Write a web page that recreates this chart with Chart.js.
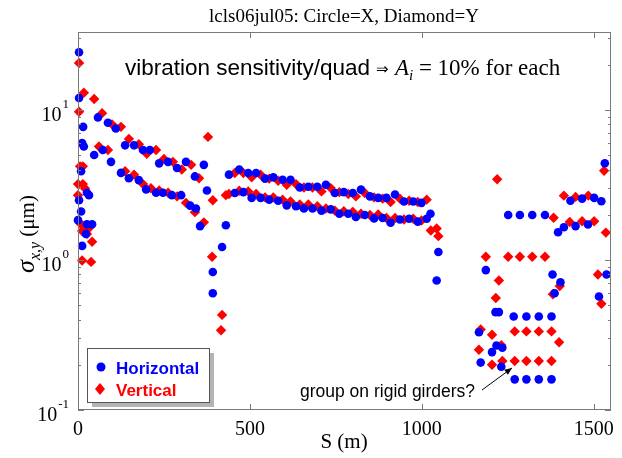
<!DOCTYPE html>
<html>
<head>
<meta charset="utf-8">
<script src="https://cdn.jsdelivr.net/npm/chart.js@4.4.1/dist/chart.umd.min.js"></script>
<style>
  html, body { margin: 0; padding: 0; background: #fff; }
  #wrap { width: 622px; height: 458px; }
</style>
</head>
<body>
<div id="wrap"><canvas id="chart" width="622" height="458"></canvas></div>
<script>
// ---- data ----
const titleText = 'lcls06jul05: Circle=X, Diamond=Y';
const seriesNames = ['Horizontal', 'Vertical'];
const xTicks = [0, 500, 1000, 1500];
const yDecades = [-1, 0, 1];

// [S (m), sigma (um)] for circles (X)
const horizontalPts = [
  [3, 24.2], [3, 12], [15, 7.7], [12, 6.0], [17, 5.7], [9, 3.9], [3, 2.5], [9, 2.1], [0, 1.84],
  [26, 2.8], [32, 2.7], [26, 1.73], [41, 1.73], [23, 1.49], [12, 1.24], [47, 5.0], [58, 8.9],
  [87, 8.2], [110, 7.5], [137, 5.8], [163, 5.8], [189, 5.4], [209, 5.4], [236, 4.4], [262, 4.5],
  [288, 4.1], [314, 4.5], [340, 3.6], [366, 4.3],
  [72, 5.4], [96, 4.5], [125, 3.8], [148, 3.5], [177, 3.4], [198, 2.95], [227, 2.8], [247, 2.8],
  [273, 2.7], [300, 2.7], [326, 2.3], [343, 2.2], [355, 1.68],
  [375, 2.9], [392, 0.83], [392, 0.60], [419, 1.22], [430, 1.7],
  [439, 3.7], [469, 4.0], [495, 3.79], [518, 3.79], [544, 3.48], [568, 3.55], [595, 3.42], [618, 3.42],
  [645, 3.04], [670, 3.07], [696, 3.07], [721, 3.17], [747, 2.79], [773, 2.83], [799, 2.79], [823, 2.94],
  [849, 2.65], [873, 2.59], [897, 2.59], [922, 2.73], [948, 2.45], [975, 2.45], [999, 2.40],
  [456, 2.79], [481, 2.83], [505, 2.59], [531, 2.59], [556, 2.52], [582, 2.48], [607, 2.31], [634, 2.28],
  [657, 2.2], [682, 2.2], [708, 2.13], [735, 2.17], [760, 2.03], [786, 2.03], [808, 1.93], [834, 1.99],
  [861, 1.89], [886, 1.90], [909, 1.77], [936, 1.86], [963, 1.88], [988, 1.80], [1014, 1.88],
  [1025, 2.03], [1048, 1.13], [1043, 0.73],
  [1166, 0.33], [1171, 0.207], [1186, 0.855], [1204, 0.243], [1214, 0.449], [1224, 0.449], [1217, 0.269],
  [1231, 0.194], [1234, 0.26], [1251, 1.99], [1285, 1.99], [1321, 1.99], [1358, 1.99],
  [1267, 0.42], [1304, 0.42], [1340, 0.42], [1377, 0.42], [1270, 0.16], [1304, 0.16], [1340, 0.16], [1377, 0.16],
  [1380, 0.80], [1386, 0.6], [1403, 0.71], [1396, 1.53], [1413, 1.65], [1432, 2.48], [1447, 1.68],
  [1466, 2.56], [1483, 1.72], [1501, 2.59], [1515, 0.57], [1522, 2.46], [1532, 4.41], [1537, 0.80]
];

// [S (m), sigma (um)] for diamonds (Y)
const verticalPts = [
  [3, 20.5], [17, 13], [3, 9.7], [47, 11.8], [70, 9.5], [61, 5.7], [6, 4.2], [14, 4.2], [0, 3.2],
  [14, 3.2], [20, 3.0], [0, 2.7], [9, 1.73], [32, 1.63], [12, 1.56], [26, 1.49], [41, 1.32], [12, 0.99], [38, 0.97],
  [99, 8.0], [125, 7.7], [148, 6.4], [177, 5.9], [200, 5.1], [227, 5.4], [250, 4.7], [276, 4.5],
  [302, 4.0], [329, 4.3], [352, 3.5], [378, 6.6],
  [87, 5.4], [137, 3.9], [163, 3.7], [189, 3.2], [212, 3.0], [236, 2.9], [262, 2.8], [288, 2.65],
  [314, 2.4], [340, 2.08], [366, 1.78], [392, 2.5],
  [390, 1.05], [419, 0.43], [416, 0.34], [430, 2.7],
  [456, 3.79], [481, 3.79], [505, 3.55], [531, 3.69], [556, 3.48], [582, 3.37], [607, 3.17], [634, 3.2],
  [657, 3.04], [682, 3.04], [708, 2.86], [735, 3.01], [760, 2.83], [786, 2.75], [808, 2.65], [834, 2.79],
  [861, 2.61], [886, 2.56], [909, 2.43], [936, 2.56], [963, 2.48], [988, 2.43], [1014, 2.52],
  [439, 2.75], [469, 2.89], [495, 2.86], [518, 2.75], [544, 2.61], [568, 2.61], [595, 2.52], [618, 2.45],
  [645, 2.34], [670, 2.34], [696, 2.28], [721, 2.2], [747, 2.13], [773, 2.11], [799, 2.09], [823, 2.03],
  [849, 1.99], [873, 2.01], [897, 1.90], [922, 1.90], [948, 1.86], [975, 1.88], [999, 1.83],
  [1026, 1.57], [1043, 1.62], [1048, 1.44],
  [1166, 0.252], [1171, 0.344], [1186, 1.05], [1204, 0.317], [1204, 0.2], [1215, 0.557], [1219, 3.45],
  [1224, 0.73], [1231, 0.27], [1234, 0.212], [1251, 1.05], [1285, 1.05], [1321, 1.05], [1358, 1.05],
  [1270, 0.334], [1304, 0.334], [1340, 0.334], [1377, 0.334], [1270, 0.212], [1304, 0.212], [1340, 0.212],
  [1377, 0.212], [1381, 0.59], [1383, 1.91], [1399, 0.283], [1401, 0.67], [1413, 2.68], [1430, 1.79],
  [1447, 2.63], [1466, 1.81], [1484, 2.68], [1501, 1.81], [1512, 0.80], [1522, 0.51], [1530, 3.93], [1535, 1.52]
];

const BLUE = '#0000ff';
const RED = '#ff0000';
const AXIS = '#7a7a7a';
const SERIF = '"Liberation Serif", "Times New Roman", serif';
const SANS = '"Liberation Sans", Arial, sans-serif';

function toXY(pts) { return pts.map(p => ({ x: p[0], y: p[1] })); }

// draws frame, inward ticks, tick labels, titles, legend, notes
const decorations = {
  id: 'decorations',
  afterDraw(chart) {
    const ctx = chart.ctx;
    const a = chart.chartArea;
    const xs = chart.scales.x, ys = chart.scales.y;
    ctx.save();

    // frame
    ctx.strokeStyle = AXIS;
    ctx.lineWidth = 1;
    ctx.strokeRect(a.left + 0.5, a.top + 0.5, a.right - a.left - 1, a.bottom - a.top - 1);

    // x ticks
    ctx.beginPath();
    xTicks.forEach(v => {
      const px = Math.round(xs.getPixelForValue(v)) + 0.5;
      ctx.moveTo(px, a.bottom); ctx.lineTo(px, a.bottom - 6);
      ctx.moveTo(px, a.top); ctx.lineTo(px, a.top + 6);
    });
    // y ticks, major + minor
    yDecades.forEach(d => {
      for (let m = 1; m <= 9; m++) {
        const v = m * Math.pow(10, d);
        if (v > ys.max) break;
        const py = Math.round(ys.getPixelForValue(v)) + 0.5;
        const len = m === 1 ? 6 : 3;
        ctx.moveTo(a.left, py); ctx.lineTo(a.left + len, py);
        ctx.moveTo(a.right, py); ctx.lineTo(a.right - len, py);
      }
    });
    ctx.stroke();

    // x tick labels
    ctx.fillStyle = '#000';
    ctx.font = '20px ' + SERIF;
    ctx.textAlign = 'center';
    ctx.textBaseline = 'alphabetic';
    xTicks.forEach(v => ctx.fillText(String(v), xs.getPixelForValue(v), 435));

    // y tick labels 10^d
    yDecades.forEach(d => {
      const py = ys.getPixelForValue(Math.pow(10, d));
      const exp = String(d);
      ctx.font = '13px ' + SERIF;
      const ew = ctx.measureText(exp).width;
      ctx.textAlign = 'left';
      const right = 69;
      ctx.fillText(exp, right - ew, py - 2);
      ctx.font = '20px ' + SERIF;
      ctx.textAlign = 'right';
      ctx.fillText('10', right - ew - 1, py + 11);
    });

    // title
    ctx.textAlign = 'center';
    ctx.font = '19px ' + SERIF;
    ctx.fillText(titleText, 344, 22);

    // x label
    ctx.font = '21px ' + SERIF;
    ctx.fillText('S (m)', 344, 448);

    // y label (rotated)
    ctx.save();
    ctx.translate(34, 234);
    ctx.rotate(-Math.PI / 2);
    const parts = [
      { t: 'σ', f: 'italic 26px ' + SERIF, dy: 0 },
      { t: 'x,y', f: 'italic 16px ' + SERIF, dy: 6 },
      { t: ' (μm)', f: '21px ' + SERIF, dy: 0 }
    ];
    let tw = 0;
    parts.forEach(p => { ctx.font = p.f; p.w = ctx.measureText(p.t).width; tw += p.w; });
    let cx = -tw / 2;
    ctx.textAlign = 'left';
    parts.forEach(p => { ctx.font = p.f; ctx.fillText(p.t, cx, p.dy); cx += p.w; });
    ctx.restore();

    // annotation
    const note = [
      { t: 'vibration sensitivity/quad ', f: '22.5px ' + SANS, dy: 0 },
      { t: '⇒', f: '15px ' + SANS, dy: -1 },
      { t: ' ', f: '20px ' + SANS, dy: 0 },
      { t: 'A', f: 'italic 23px ' + SERIF, dy: 0 },
      { t: 'i', f: 'italic 15px ' + SERIF, dy: 5 },
      { t: ' = 10% for each', f: '23px ' + SERIF, dy: 0 }
    ];
    let nx = 125;
    ctx.textAlign = 'left';
    note.forEach(p => { ctx.font = p.f; ctx.fillText(p.t, nx, 75 + p.dy); nx += ctx.measureText(p.t).width; });

    // girder note + arrow
    ctx.font = '17.5px ' + SANS;
    ctx.fillText('group on rigid girders?', 300, 397);
    ctx.strokeStyle = '#000';
    ctx.lineWidth = 1;
    const ax0 = 482, ay0 = 390, ax1 = 512, ay1 = 368;
    ctx.beginPath(); ctx.moveTo(ax0, ay0); ctx.lineTo(ax1, ay1); ctx.stroke();
    const ang = Math.atan2(ay1 - ay0, ax1 - ax0);
    ctx.beginPath();
    ctx.moveTo(ax1, ay1);
    ctx.lineTo(ax1 - 8 * Math.cos(ang - 0.4), ay1 - 8 * Math.sin(ang - 0.4));
    ctx.lineTo(ax1 - 8 * Math.cos(ang + 0.4), ay1 - 8 * Math.sin(ang + 0.4));
    ctx.closePath();
    ctx.fillStyle = '#000';
    ctx.fill();

    // legend box with shadow
    const lx = 87, ly = 348, lw = 122, lh = 54;
    ctx.fillStyle = '#b4b4b4';
    ctx.fillRect(lx + 5, ly + 5, lw, lh);
    ctx.fillStyle = '#fff';
    ctx.fillRect(lx, ly, lw, lh);
    ctx.strokeStyle = '#555';
    ctx.strokeRect(lx + 0.5, ly + 0.5, lw, lh);
    ctx.fillStyle = BLUE;
    ctx.beginPath(); ctx.arc(101, 367, 4.5, 0, Math.PI * 2); ctx.fill();
    ctx.fillStyle = RED;
    ctx.beginPath();
    ctx.moveTo(100, 383); ctx.lineTo(105, 389); ctx.lineTo(100, 395); ctx.lineTo(95, 389);
    ctx.closePath(); ctx.fill();
    ctx.font = 'bold 17px ' + SANS;
    ctx.fillStyle = BLUE;
    ctx.fillText(seriesNames[0], 116, 374);
    ctx.fillStyle = RED;
    ctx.fillText(seriesNames[1], 116, 396);

    ctx.restore();
  }
};

new Chart(document.getElementById('chart'), {
  type: 'scatter',
  data: {
    datasets: [
      {
        label: seriesNames[0], data: toXY(horizontalPts), clip: false,
        pointStyle: 'circle', pointRadius: 4.3, pointHoverRadius: 4.3,
        backgroundColor: BLUE, borderColor: BLUE, borderWidth: 0
      },
      {
        label: seriesNames[1], data: toXY(verticalPts), clip: false,
        pointStyle: 'rectRot', pointRadius: 5.2, pointHoverRadius: 5.2,
        backgroundColor: RED, borderColor: RED, borderWidth: 0
      }
    ]
  },
  options: {
    responsive: false,
    devicePixelRatio: 1,
    animation: false,
    events: [],
    layout: { padding: { left: 78, right: 11, top: 32, bottom: 48 } },
    plugins: { legend: { display: false }, tooltip: { enabled: false }, title: { display: false } },
    scales: {
      x: { type: 'linear', min: 0, max: 1550, display: false },
      y: { type: 'logarithmic', min: 0.1, max: 33, display: false }
    }
  },
  plugins: [decorations]
});
</script>
</body>
</html>
